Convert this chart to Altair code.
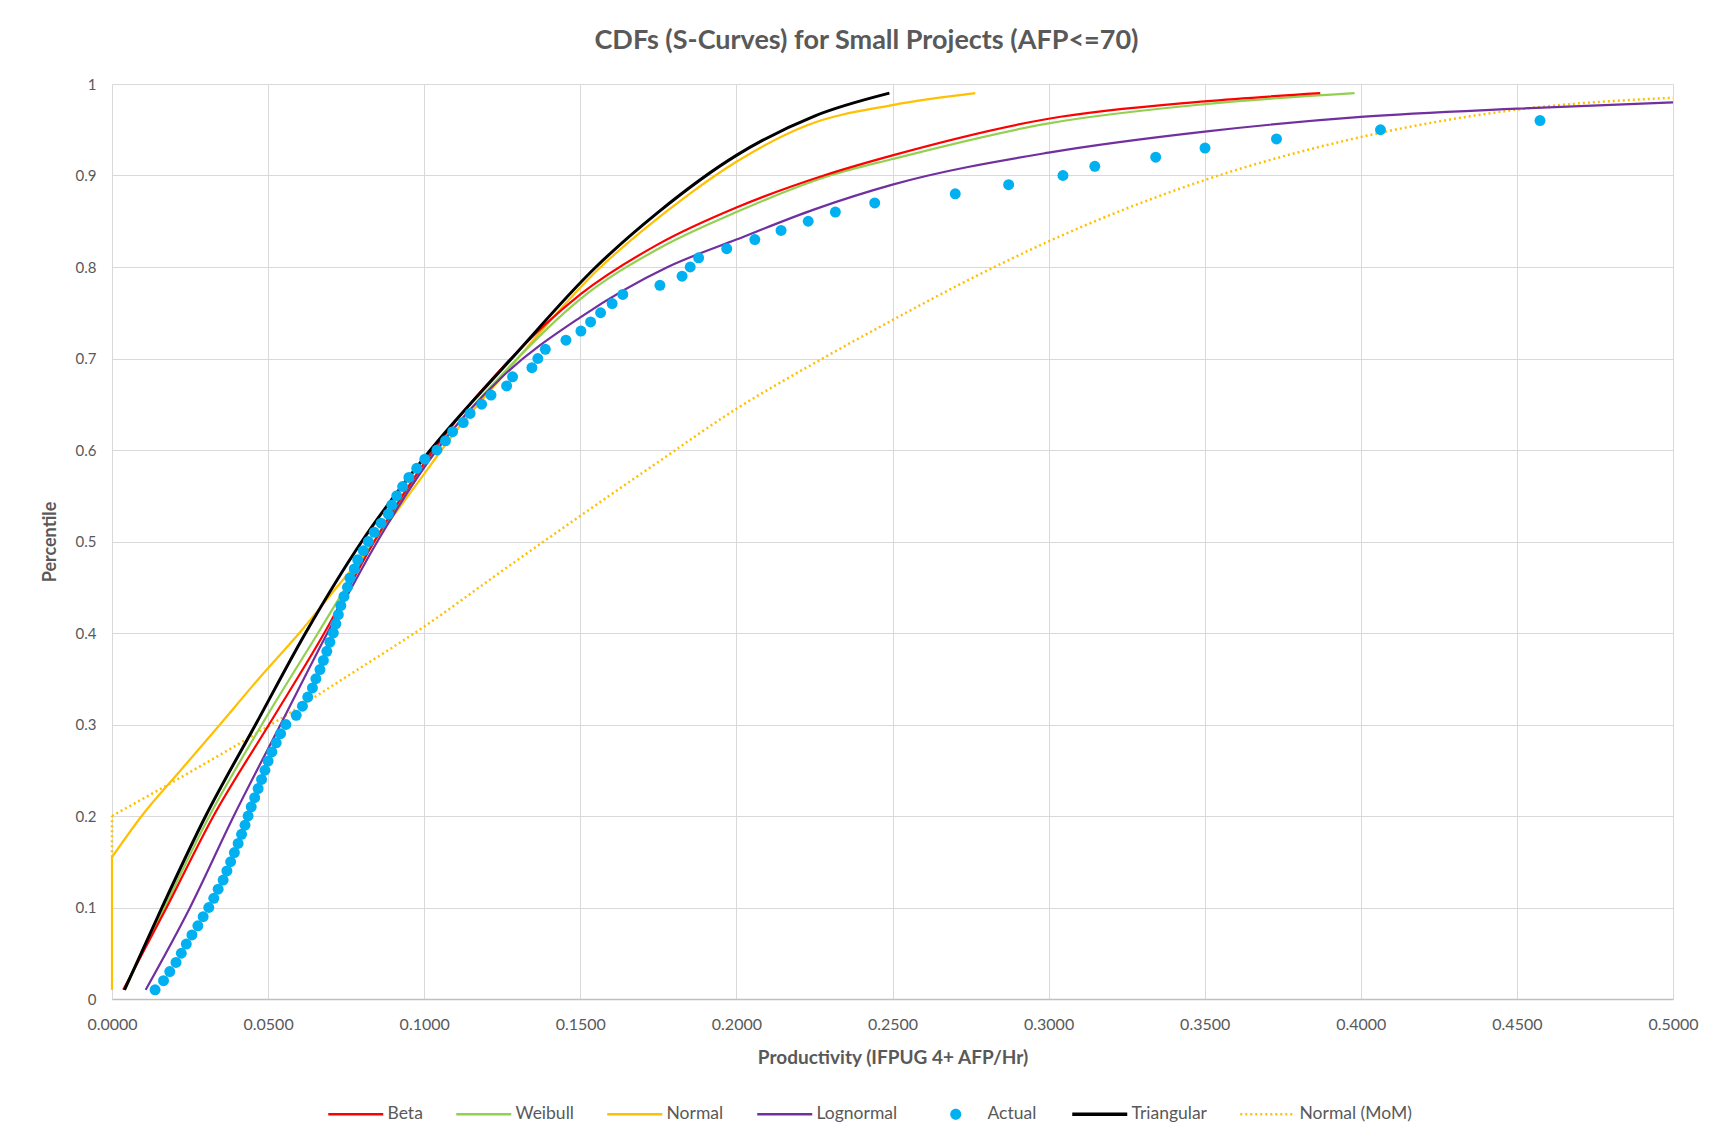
import altair as alt
import pandas as pd

SERIES = ["Beta", "Weibull", "Normal", "Lognormal", "Actual", "Triangular", "Normal (MoM)"]
COLORS = ["#FF0000", "#92D050", "#FFC000", "#7030A0", "#00B0F0", "#000000", "#FFC000"]

X_TICKS = [0.0, 0.05, 0.10, 0.15, 0.20, 0.25, 0.30, 0.35, 0.40, 0.45, 0.50]
Y_TICKS = [0.0, 0.1, 0.2, 0.3, 0.4, 0.5, 0.6, 0.7, 0.8, 0.9, 1.0]

# Actual (empirical) points: percentile 0.01 .. 0.96
actual_y = [round(0.01 * i, 2) for i in range(1, 97)]
actual_x = [
    0.0138, 0.0165, 0.0185, 0.0205, 0.0222, 0.0238, 0.0256, 0.0275, 0.0292, 0.0310,
    0.0326, 0.0340, 0.0356, 0.0368, 0.0380, 0.0392, 0.0404, 0.0415, 0.0426, 0.0436,
    0.0446, 0.0457, 0.0468, 0.0479, 0.0490, 0.0500, 0.0512, 0.0526, 0.0540, 0.0557,
    0.0590, 0.0610, 0.0627, 0.0642, 0.0653, 0.0666, 0.0677, 0.0688, 0.0698, 0.0709,
    0.0717, 0.0725, 0.0733, 0.0743, 0.0754, 0.0762, 0.0776, 0.0787, 0.0805, 0.0821,
    0.0840, 0.0862, 0.0885, 0.0896, 0.0912, 0.0931, 0.0951, 0.0976, 0.1002, 0.1041,
    0.1068, 0.1091, 0.1125, 0.1147, 0.1184, 0.1214, 0.1264, 0.1283, 0.1345, 0.1364,
    0.1388, 0.1454, 0.1502, 0.1533, 0.1565, 0.1602, 0.1636, 0.1755, 0.1826, 0.1852,
    0.1879, 0.1969, 0.2059, 0.2143, 0.2230, 0.2317, 0.2443, 0.2701, 0.2872, 0.3046,
    0.3148, 0.3343, 0.3501, 0.3730, 0.4063, 0.4574,
]

tri_x = [0.004, 0.016, 0.030, 0.046, 0.062, 0.080, 0.102, 0.128, 0.155, 0.175, 0.200, 0.225, 0.249]
tri_y = [0.01, 0.10, 0.20, 0.30, 0.40, 0.50, 0.60, 0.70, 0.80, 0.86, 0.922, 0.965, 0.99]

beta_x = [0.0036, 0.0175, 0.0325, 0.0503, 0.068, 0.084, 0.103, 0.125, 0.15, 0.175, 0.20, 0.228, 0.25, 0.30, 0.35, 0.387]
beta_y = [0.01, 0.10, 0.20, 0.30, 0.40, 0.50, 0.60, 0.69, 0.77, 0.825, 0.865, 0.90, 0.922, 0.962, 0.981, 0.99]

weib_x = [0.004, 0.0168, 0.0312, 0.048, 0.066, 0.084, 0.104, 0.127, 0.15, 0.175, 0.20, 0.23, 0.25, 0.30, 0.35, 0.398]
weib_y = [0.01, 0.10, 0.20, 0.30, 0.40, 0.50, 0.60, 0.69, 0.765, 0.82, 0.86, 0.90, 0.918, 0.957, 0.978, 0.99]

logn_x = [0.0108, 0.025, 0.039, 0.054, 0.069, 0.085, 0.104, 0.125, 0.15, 0.178, 0.20, 0.225, 0.25, 0.30, 0.35, 0.40, 0.45, 0.50]
logn_y = [0.01, 0.10, 0.20, 0.30, 0.40, 0.50, 0.60, 0.68, 0.745, 0.80, 0.83, 0.863, 0.89, 0.925, 0.948, 0.964, 0.973, 0.98]

norm_x = [0.0, 0.0095, 0.022, 0.0346, 0.047, 0.060, 0.072, 0.084, 0.097, 0.11, 0.125, 0.14, 0.155, 0.17, 0.185, 0.20, 0.2227, 0.25, 0.2765]
norm_y = [0.155, 0.20, 0.25, 0.30, 0.35, 0.40, 0.45, 0.50, 0.56, 0.62, 0.68, 0.74, 0.795, 0.84, 0.88, 0.915, 0.955, 0.977, 0.99]

mom_x = [0.0, 0.025, 0.05, 0.075, 0.10, 0.125, 0.15, 0.175, 0.20, 0.225, 0.25, 0.275, 0.30, 0.35, 0.40, 0.45, 0.50]
mom_y = [0.20, 0.248, 0.298, 0.352, 0.407, 0.468, 0.528, 0.587, 0.645, 0.695, 0.742, 0.787, 0.828, 0.895, 0.942, 0.972, 0.985]

# vertical segments at x = 0 (clamped lower percentiles)
seg_series = ["Normal", "Normal", "Normal (MoM)", "Normal (MoM)"]
seg_x = [0.0, 0.0, 0.0, 0.0]
seg_y = [0.01, 0.155, 0.155, 0.20]


def frame(name, xs, ys):
    return pd.DataFrame({"series": name, "x": xs, "y": ys})


FONT = "Lato"
GREY = "#595959"

color_scale = alt.Scale(domain=SERIES, range=COLORS)
xs = alt.Scale(domain=[0, 0.5], nice=False, zero=False)
ys = alt.Scale(domain=[0, 1], nice=False)

CIRCLE_PATH = "M -0.2 0 A 0.2 0.2 0 1 0 0.2 0 A 0.2 0.2 0 1 0 -0.2 0 Z"

legend = alt.Legend(
    title=None,
    orient="none",
    direction="horizontal",
    legendX=214,
    legendY=1021,
    symbolType={"expr": "datum.value === 'Actual' ? '" + CIRCLE_PATH + "' : 'stroke'"},
    symbolSize=3025,
    symbolOffset=21,
    symbolStrokeWidth={"expr": "datum.value === 'Actual' ? 0 : (datum.value === 'Triangular' ? 3.5 : 2.5)"},
    symbolDash={"expr": "datum.value === 'Normal (MoM)' ? [2, 3] : [1, 0]"},
    symbolFillColor={"expr": "datum.value === 'Actual' ? '#00B0F0' : 'transparent'"},
    symbolOpacity=1,
    labelFontSize=17.5,
    labelColor=GREY,
    labelFont=FONT,
    columnPadding=28,
    labelOffset=23,
)

x_axis = alt.Axis(
    values=X_TICKS, format=".4f", title="Productivity (IFPUG 4+ AFP/Hr)",
    titleFontSize=19, titleFontWeight="bold", titleColor=GREY, titleFont=FONT, titlePadding=16,
    labelFontSize=16, labelColor=GREY, labelFont=FONT, labelPadding=17, labelFlush=False, ticks=False,
    grid=True, gridColor="#D9D9D9", gridWidth=1, domainColor="#BFBFBF", domainWidth=1.5,
)
y_axis = alt.Axis(
    values=Y_TICKS, labelExpr="format(datum.value, '~g')", title="Percentile",
    titleFontSize=18, titleFontWeight="bold", titleColor=GREY, titleFont=FONT, titlePadding=16,
    labelFontSize=15, labelColor=GREY, labelFont=FONT, labelPadding=16, ticks=False,
    grid=True, gridColor="#D9D9D9", gridWidth=1, domain=False,
)


def enc(chart):
    return chart.encode(
        x=alt.X("x:Q", scale=xs, axis=x_axis),
        y=alt.Y("y:Q", scale=ys, axis=y_axis),
        color=alt.Color("series:N", scale=color_scale, legend=legend),
    )


seg_df = pd.DataFrame({"series": seg_series, "x": seg_x, "y": seg_y})
seg_solid = enc(alt.Chart(seg_df[seg_df.series == "Normal"]).mark_line(strokeWidth=2.2))
seg_dot = enc(alt.Chart(seg_df[seg_df.series == "Normal (MoM)"]).mark_line(strokeWidth=2.5, strokeDash=[2, 3]))

mom = enc(alt.Chart(frame("Normal (MoM)", mom_x, mom_y)).mark_line(interpolate="monotone", strokeWidth=2.5, strokeDash=[2, 3]))
norm = enc(alt.Chart(frame("Normal", norm_x, norm_y)).mark_line(interpolate="monotone", strokeWidth=2.2))
weib = enc(alt.Chart(frame("Weibull", weib_x, weib_y)).mark_line(interpolate="monotone", strokeWidth=2.2))
beta = enc(alt.Chart(frame("Beta", beta_x, beta_y)).mark_line(interpolate="monotone", strokeWidth=2.2))
logn = enc(alt.Chart(frame("Lognormal", logn_x, logn_y)).mark_line(interpolate="monotone", strokeWidth=2.2))
tri = enc(alt.Chart(frame("Triangular", tri_x, tri_y)).mark_line(interpolate="monotone", strokeWidth=3))
act = enc(alt.Chart(frame("Actual", actual_x, actual_y)).mark_circle(size=120, opacity=1))

chart = alt.layer(seg_dot, seg_solid, mom, norm, weib, beta, logn, tri, act).properties(
    width=1561,
    height=915,
    title=alt.TitleParams(
        text="CDFs (S-Curves) for Small Projects (AFP<=70)",
        fontSize=27, fontWeight="bold", color=GREY, font=FONT,
        anchor="middle", offset=22, dx=-26,
    ),
    autosize=alt.AutoSizeParams(type="none"),
    padding={"left": 112, "top": 84, "right": 36, "bottom": 138},
).configure(
    font=FONT, background="white"
).configure_view(stroke="transparent")

chart.save("out.html", embed_options={"renderer": "svg", "actions": False})
